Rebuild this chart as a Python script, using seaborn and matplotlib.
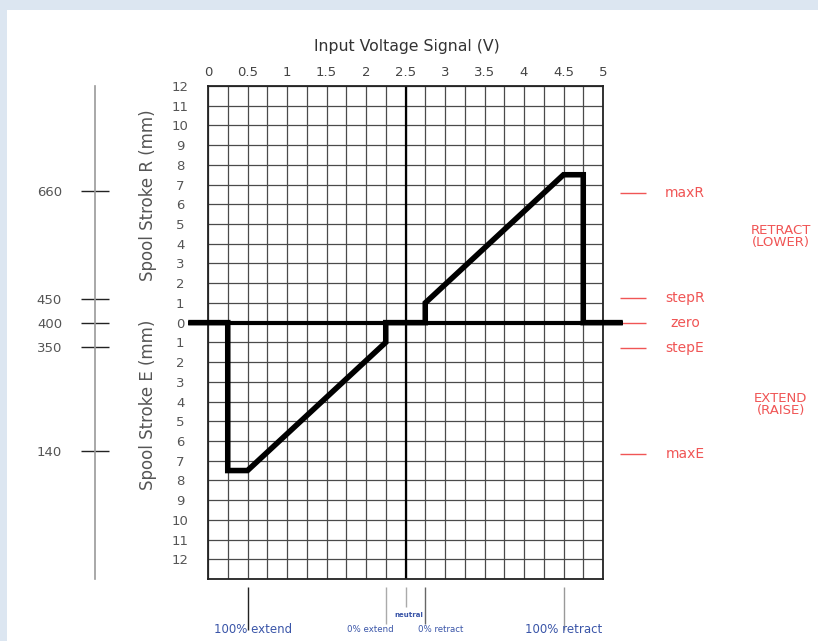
import matplotlib
matplotlib.use("Agg")
import matplotlib.pyplot as plt
import seaborn as sns
import numpy as np
import pandas as pd
from matplotlib.patches import Rectangle

# ---------------- data ----------------
voltage = [-0.25, 0.25, 0.25, 0.5, 2.25, 2.25, 2.75, 2.75, 4.5, 4.75, 4.75, 5.25]
stroke = [0, 0, -7.5, -7.5, -1, 0, 0, 1, 7.5, 7.5, 0, 0]

x_major = [0, 0.5, 1, 1.5, 2, 2.5, 3, 3.5, 4, 4.5, 5]
x_labels = ["0", "0.5", "1", "1.5", "2", "2.5", "3", "3.5", "4", "4.5", "5"]
y_ticks = list(range(-13, 13))
y_labels = [""] + [str(abs(v)) for v in range(-12, 13)]

mm_pos = [6.7, 1.22, 0, -1.22, -6.5]
mm_labels = ["660", "450", "400", "350", "140"]

ref_names = ["maxR", "stepR", "zero", "stepE", "maxE"]
ref_pos = [6.55, 1.27, 0, -1.27, -6.65]

mode_names = ["RETRACT\n(LOWER)", "EXTEND\n(RAISE)"]
mode_pos = [4.37, -4.16]

pct_names = ["100% extend", "0% extend", "neutral", "0% retract", "100% retract"]
pct_volt = [0.5, 2.25, 2.5, 2.75, 4.5]

# ---------------- figure ----------------
sns.set_theme(style="white")
plt.rcParams['font.family'] = ['DejaVu Sans']
W, H = 818, 641
fig = plt.figure(figsize=(W / 100, H / 100), dpi=100)
fig.patch.set_facecolor("white")
fig.patches.append(Rectangle((0, 1 - 10 / H), 1, 10 / H, transform=fig.transFigure,
                             facecolor="#dce6f1", edgecolor="none", zorder=-100))
fig.patches.append(Rectangle((0, 0), 7 / W, 1, transform=fig.transFigure,
                             facecolor="#dce6f1", edgecolor="none", zorder=-100))

def fx(px):
    return px / W

def fy(py):
    return 1 - py / H

top_px, bot_px = 86, 579
ax = fig.add_axes([fx(208), fy(bot_px), (603 - 208) / W, (bot_px - top_px) / H])
ax.set_facecolor("white")
ax.set_xlim(0, 5)
ax.set_ylim(-13, 12)

# grid
ax.set_xticks(x_major)
ax.set_xticks(np.arange(0.25, 5, 0.5), minor=True)
ax.set_xticklabels(x_labels)
ax.set_yticks(y_ticks)
ax.set_yticklabels(y_labels)
ax.grid(True, which="both", color="#4a4a4a", lw=0.9)
ax.xaxis.tick_top()
ax.tick_params(axis="x", which="both", length=0, pad=5, labelsize=9.5, labelcolor="#444")
ax.tick_params(axis="y", length=0, pad=20, labelsize=9.5, labelcolor="#555")
for lab in ax.get_yticklabels():
    lab.set_horizontalalignment("center")
for s in ax.spines.values():
    s.set_visible(True)
    s.set_color("#222")
    s.set_linewidth(1.3)
ax.axvline(2.5, color="black", lw=1.6, zorder=2)

# zero line and curve
ax.hlines(0, -0.25, 5.25, color="black", lw=3.0, clip_on=False, zorder=3)
df = pd.DataFrame({"v": voltage, "s": stroke})
sns.lineplot(data=df, x="v", y="s", sort=False, estimator=None, color="black",
             lw=4.0, ax=ax, zorder=4)
for ln in ax.lines:
    ln.set_clip_on(False)
    ln.set_solid_joinstyle("miter")
    ln.set_solid_capstyle("butt")
ax.set_xlabel("")
ax.set_ylabel("")

fig.text(fx(407), fy(47), "Input Voltage Signal (V)", ha="center", va="center",
         fontsize=11.3, color="#333")
fig.text(fx(148), fy(195), "Spool Stroke R (mm)", rotation=90, ha="center", va="center",
         fontsize=12, color="#555")
fig.text(fx(148), fy(405), "Spool Stroke E (mm)", rotation=90, ha="center", va="center",
         fontsize=12, color="#555")

# left mm axis
axl = fig.add_axes([fx(95), fy(bot_px), 0.001, (bot_px - top_px) / H])
axl.set_ylim(-13, 12)
axl.patch.set_visible(False)
for k in ["top", "right", "bottom"]:
    axl.spines[k].set_visible(False)
axl.spines["left"].set_color("#999")
axl.spines["left"].set_linewidth(1.2)
axl.spines["left"].set_visible(True)
axl.set_xticks([])
axl.set_yticks(mm_pos)
axl.set_yticklabels(mm_labels)
axl.tick_params(axis="y", direction="inout", length=19.5, width=1, color="#222",
                pad=14, labelsize=9.5, labelcolor="#555", left=True, right=False,
                labelleft=True, labelright=False)

# right reference marks
red = "#f05555"
ax.hlines(ref_pos, 5.215, 5.545, color=red, lw=1, clip_on=False, zorder=2)
for name, p in zip(ref_names, ref_pos):
    ax.text(6.04, p, name, ha="center", va="center", color=red, fontsize=10, clip_on=False)
for name, p in zip(mode_names, mode_pos):
    ax.text(7.25, p, name, ha="center", va="center", color=red, fontsize=9.5,
            linespacing=0.95, clip_on=False)

# bottom annotations
blue = "#3a55a8"
line_cols = ["#222", "#aaa", "#aaa", "#666", "#999"]
line_bot = [-15.6, -15.3, -14.4, -15.3, -15.6]
for name, v, c, lb in zip(pct_names, pct_volt, line_cols, line_bot):
    ax.vlines(v, -13.4, lb, color=c, lw=1, clip_on=False)
for name, v in zip(pct_names, pct_volt):
    if name == "neutral":
        ax.text(v + 0.04, -14.85, name, ha="center", va="center", color=blue,
                fontsize=5, fontweight="bold", clip_on=False)
    elif name.startswith("0%"):
        dx = -0.2 if "extend" in name else 0.19
        ax.text(v + dx, -15.55, name, ha="center", va="center", color=blue,
                fontsize=6.2, clip_on=False)
    else:
        dx = 0.07 if "extend" in name else 0.0
        ax.text(v + dx, -15.55, name, ha="center", va="center", color=blue,
                fontsize=8.5, clip_on=False)

fig.savefig("out.png", dpi=100, facecolor=fig.get_facecolor())
